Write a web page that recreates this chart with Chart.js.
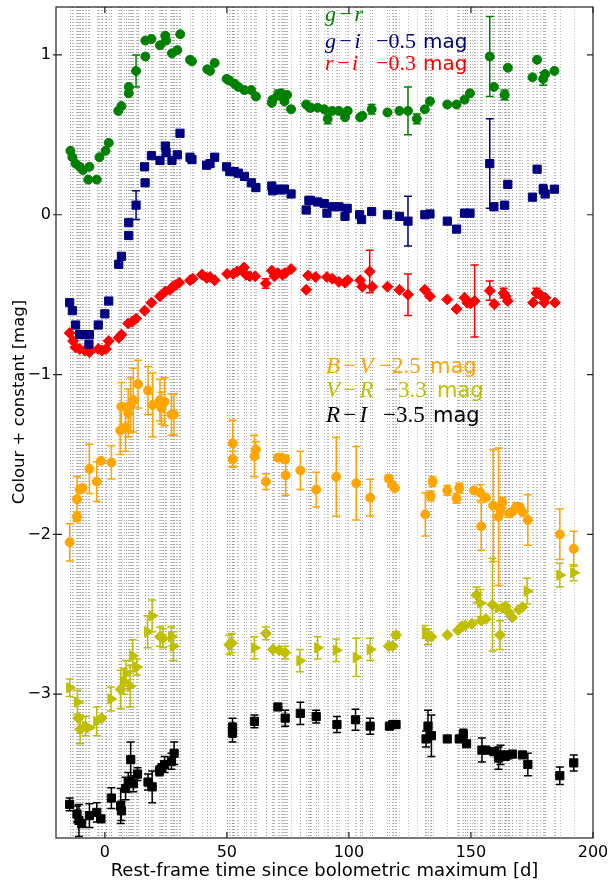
<!DOCTYPE html>
<html>
<head>
<meta charset="utf-8">
<script src="https://cdn.jsdelivr.net/npm/chart.js@4.4.1/dist/chart.umd.min.js"></script>
<style>
html, body { margin: 0; padding: 0; background: #fff; }
#wrap { width: 609px; height: 881px; }
</style>
</head>
<body>
<div id="wrap"><canvas id="myChart" width="609" height="881"></canvas></div>
<script>
// points are [rest-frame day, colour + constant, error]  (0 = error hidden by marker)
var grPts = [[-14.1,0.40,0],[-13.3,0.36,0],[-12.0,0.32,0],[-10.3,0.30,0],[-9.0,0.28,0],[-6.8,0.22,0],[-6.3,0.30,0],[-3.3,0.22,0],[-2.2,0.36,0],[0.3,0.40,0],[1.6,0.45,0],[5.5,0.65,0],[6.8,0.68,0],[9.8,0.76,0],[9.8,0.80,0],[12.8,0.90,0.10],[16.6,0.99,0],[16.6,1.09,0],[19.1,1.10,0],[22.6,1.06,0],[24.8,1.12,0],[25.1,1.09,0],[27.5,1.01,0],[29.7,1.03,0],[30.9,1.13,0],[34.9,0.97,0],[35.7,0.96,0],[42.0,0.91,0],[43.1,0.90,0],[45.0,0.95,0],[49.9,0.85,0],[51.0,0.84,0],[53.1,0.82,0],[54.7,0.80,0],[57.2,0.78,0],[60.0,0.78,0],[61.9,0.74,0],[68.4,0.70,0],[68.7,0.72,0],[70.9,0.75,0.03],[72.3,0.76,0],[73.6,0.71,0],[74.7,0.75,0],[76.3,0.66,0],[82.5,0.69,0],[83.9,0.67,0],[84.5,0.67,0],[87.2,0.67,0],[89.9,0.66,0],[91.3,0.60,0.03],[93.2,0.65,0],[95.9,0.65,0],[98.4,0.61,0],[99.5,0.65,0],[104.6,0.61,0],[105.5,0.62,0],[109.3,0.66,0.03],[115.8,0.64,0],[120.7,0.65,0],[124.2,0.65,0.15],[127.8,0.60,0.03],[131.1,0.66,0],[133.2,0.71,0],[140.3,0.69,0],[144.1,0.69,0],[147.4,0.72,0],[149.6,0.76,0],[157.7,0.99,0.25],[159.4,0.80,0],[163.8,0.75,0.03],[165.1,0.92,0],[175.2,0.86,0],[177.1,0.97,0],[179.6,0.85,0.04],[180.4,0.88,0],[184.2,0.90,0]];

var giPts = [[-14.4,-0.55,0],[-13.3,-0.60,0],[-12.0,-0.69,0],[-10.3,-0.75,0],[-8.2,-0.75,0],[-6.5,-0.81,0],[-6.3,-0.75,0],[-2.7,-0.69,0],[0.0,-0.62,0],[1.6,-0.54,0],[5.7,-0.31,0],[6.8,-0.26,0],[9.8,-0.13,0],[9.8,-0.05,0],[12.8,0.06,0.09],[16.5,0.20,0],[16.3,0.30,0],[19.1,0.37,0],[22.6,0.34,0],[24.8,0.43,0],[25.1,0.39,0],[27.5,0.34,0],[29.7,0.375,0],[30.8,0.51,0],[34.9,0.36,0],[35.7,0.345,0],[41.7,0.31,0],[43.1,0.32,0],[45.0,0.36,0],[49.9,0.30,0],[51.2,0.27,0],[53.1,0.27,0],[54.7,0.26,0],[57.2,0.24,0],[60.0,0.20,0],[61.9,0.17,0],[68.4,0.18,0],[68.7,0.15,0],[70.9,0.16,0],[72.3,0.155,0],[73.6,0.16,0],[76.3,0.13,0],[82.5,0.03,0],[83.6,0.09,0],[84.2,0.09,0],[87.2,0.08,0],[89.9,0.07,0],[91.0,0.01,0],[93.2,0.05,0],[95.9,0.05,0],[98.4,-0.01,0],[99.3,0.04,0],[104.4,0.0,0],[105.2,-0.03,0],[109.3,0.02,0],[115.8,0.0,0],[120.7,-0.01,0],[124.2,-0.04,0.155],[131.1,0.0,0],[133.2,0.005,0],[140.3,-0.04,0],[144.1,-0.09,0],[147.4,0.01,0],[149.6,0.01,0],[157.7,0.32,0.28],[159.4,0.05,0],[163.8,0.06,0],[165.1,0.19,0],[175.2,0.11,0],[177.1,0.285,0],[179.6,0.16,0.03],[180.4,0.13,0],[184.2,0.16,0]];

var riPts = [[-14.4,-0.74,0],[-13.0,-0.79,0],[-12.0,-0.83,0],[-10.3,-0.84,0],[-8.2,-0.85,0],[-6.3,-0.86,0],[-2.7,-0.84,0],[-1.1,-0.85,0],[0.5,-0.84,0],[1.6,-0.79,0],[5.7,-0.77,0],[6.8,-0.75,0],[9.6,-0.68,0],[11.2,-0.67,0],[12.8,-0.65,0],[16.3,-0.60,0],[19.1,-0.55,0],[22.6,-0.51,0],[24.8,-0.48,0],[26.7,-0.47,0],[27.8,-0.45,0],[29.1,-0.44,0],[30.5,-0.425,0],[34.9,-0.41,0],[36.0,-0.40,0],[39.8,-0.375,0],[41.7,-0.395,0],[43.1,-0.39,0],[45.0,-0.41,0],[50.1,-0.37,0],[52.6,-0.37,0],[54.2,-0.355,0],[57.0,-0.33,0],[57.8,-0.375,0],[59.4,-0.385,0],[61.6,-0.385,0],[65.9,-0.43,0.03],[68.4,-0.35,0],[69.5,-0.385,0],[70.9,-0.365,0],[72.8,-0.375,0],[73.9,-0.365,0],[76.3,-0.34,0],[82.5,-0.47,0],[83.3,-0.38,0],[86.4,-0.39,0],[91.0,-0.39,0],[93.2,-0.40,0],[95.9,-0.42,0],[98.4,-0.425,0],[99.5,-0.41,0],[104.6,-0.41,0],[105.5,-0.45,0],[108.5,-0.355,0.133],[109.6,-0.45,0],[115.8,-0.45,0],[120.7,-0.47,0],[124.2,-0.50,0.13],[131.1,-0.47,0],[133.2,-0.51,0],[140.3,-0.53,0],[144.1,-0.59,0],[147.4,-0.52,0],[148.5,-0.55,0],[149.8,-0.555,0],[151.5,-0.54,0.225],[157.7,-0.475,0.06],[159.6,-0.56,0],[163.4,-0.49,0.03],[164.2,-0.51,0],[165.1,-0.54,0],[175.5,-0.55,0],[176.8,-0.49,0.03],[178.4,-0.50,0],[180.0,-0.55,0],[180.5,-0.52,0],[184.4,-0.55,0]];

var bvPts = [[-14.4,-2.05,0.117],[-11.4,-1.89,0.03],[-11.4,-1.78,0.14],[-10.3,-1.72,0],[-9.2,-1.71,0],[-6.3,-1.59,0.154],[-3.3,-1.67,0.125],[-1.6,-1.54,0],[2.7,-1.55,0.104],[6.3,-1.35,0.15],[6.8,-1.20,0.15],[8.5,-1.33,0.15],[9.6,-1.24,0.15],[10.6,-1.19,0.17],[11.7,-1.16,0.2],[13.6,-1.06,0.15],[17.7,-1.10,0.15],[19.6,-1.19,0.2],[22.6,-1.16,0.13],[23.2,-1.21,0.1],[24.5,-1.17,0.15],[27.3,-1.25,0.13],[28.3,-1.25,0.13],[52.4,-1.43,0.144],[52.4,-1.53,0.05],[61.3,-1.51,0.13],[61.9,-1.47,0.05],[66.0,-1.67,0.05],[70.9,-1.52,0],[72.5,-1.52,0],[73.9,-1.53,0.02],[74.1,-1.63,0.125],[80.1,-1.60,0.12],[86.6,-1.72,0.108],[94.8,-1.64,0.246],[103.0,-1.68,0.23],[108.7,-1.77,0.115],[116.3,-1.65,0.02],[117.7,-1.69,0],[118.8,-1.71,0],[131.3,-1.875,0.135],[133.5,-1.76,0.03],[134.3,-1.67,0.03],[140.3,-1.725,0.03],[144.1,-1.775,0.03],[145.2,-1.71,0.03],[151.2,-1.725,0],[153.9,-1.74,0.05],[154.2,-1.95,0.15],[156.1,-1.77,0],[159.1,-1.82,0.35],[161.3,-1.89,0.43],[162.1,-1.85,0.03],[162.9,-1.80,0.03],[165.7,-1.87,0],[166.8,-1.86,0],[168.4,-1.83,0.03],[170.0,-1.83,0],[171.1,-1.86,0],[173.3,-1.91,0.158],[186.4,-2.00,0.158],[192.1,-2.09,0.11]];

var vrTriPts = [[-14.4,-2.96,0.055],[-11.2,-3.05,0.075],[-7.9,-3.20,0.06],[-6.3,-3.21,0],[-3.3,-3.17,0.09],[2.5,-3.03,0.075],[7.8,-2.92,0.08],[8.7,-2.87,0.08],[10.4,-2.95,0.13],[11.4,-2.76,0.1],[13.1,-2.83,0.05],[17.5,-2.61,0.1],[19.4,-2.51,0.1],[27.3,-2.64,0.06],[28.1,-2.70,0.09],[61.3,-2.71,0.07],[79.9,-2.79,0.07],[87.2,-2.71,0.07],[94.8,-2.725,0.07],[103.0,-2.77,0.12],[108.7,-2.72,0.07],[131.3,-2.61,0.04],[153.9,-2.43,0.085],[161.2,-2.46,0],[173.0,-2.355,0.08],[186.4,-2.255,0.075],[192.1,-2.24,0.05]];

var vrDiaPts = [[-10.9,-3.15,0],[-10.1,-3.22,0.09],[-1.3,-3.15,0],[6.5,-2.97,0.12],[22.6,-2.64,0.06],[23.8,-2.65,0.06],[51.0,-2.69,0.06],[52.0,-2.68,0.06],[66.0,-2.62,0.04],[68.9,-2.72,0],[71.4,-2.725,0],[73.9,-2.74,0.04],[116.3,-2.70,0],[117.9,-2.70,0],[119.3,-2.63,0.02],[132.4,-2.64,0.05],[133.8,-2.64,0],[140.3,-2.63,0],[144.7,-2.60,0],[146.3,-2.575,0],[147.7,-2.57,0],[150.4,-2.56,0],[152.3,-2.38,0.05],[154.2,-2.54,0],[156.1,-2.53,0],[158.8,-2.44,0.29],[161.9,-2.63,0.09],[162.9,-2.46,0],[164.2,-2.45,0],[165.6,-2.49,0],[166.9,-2.52,0],[169.6,-2.47,0],[171.1,-2.455,0]];

var riBlackPts = [[-14.4,-3.69,0.04],[-11.4,-3.75,0.05],[-10.6,-3.79,0.1],[-9.5,-3.81,0],[-6.3,-3.76,0.075],[-3.3,-3.74,0.06],[-1.6,-3.78,0],[2.7,-3.65,0.065],[6.5,-3.70,0.11],[6.8,-3.73,0.06],[8.5,-3.59,0.07],[9.6,-3.55,0.06],[10.6,-3.41,0.11],[11.7,-3.56,0.05],[13.4,-3.50,0.04],[17.7,-3.55,0.05],[19.4,-3.58,0.1],[22.4,-3.48,0.03],[23.4,-3.46,0],[24.5,-3.44,0.05],[27.3,-3.42,0.05],[28.4,-3.37,0.07],[52.3,-3.21,0.06],[52.3,-3.24,0.06],[61.3,-3.17,0.04],[70.9,-3.08,0],[73.9,-3.15,0.05],[80.1,-3.12,0.07],[86.6,-3.14,0.04],[95.1,-3.19,0.05],[102.7,-3.16,0.065],[108.7,-3.20,0.05],[116.6,-3.20,0],[118.0,-3.19,0],[119.3,-3.19,0],[131.6,-3.28,0.05],[132.4,-3.20,0.1],[133.8,-3.26,0.13],[140.3,-3.28,0],[145.2,-3.28,0],[146.9,-3.25,0.03],[148.2,-3.31,0],[154.5,-3.35,0.075],[156.1,-3.35,0],[159.4,-3.36,0],[161.3,-3.40,0.07],[162.1,-3.38,0.06],[164.0,-3.39,0],[165.3,-3.38,0],[167.0,-3.375,0],[171.1,-3.38,0],[173.3,-3.44,0.07],[186.4,-3.51,0.055],[192.1,-3.43,0.05]];

var xTicks = [0, 50, 100, 150, 200];
var yTicks = [-3, -2, -1, 0, 1];

var MINUS = '\u2212';

function fmt(v) {
    return v < 0 ? MINUS + Math.abs(v) : String(v);
}

function toData(pts) {
    return pts.map(function(p) { return {x: p[0], y: p[1], e: p[2]}; });
}

function series(pts, color, style, radius, rot) {
    return {
        data: toData(pts),
        backgroundColor: color,
        borderColor: color,
        borderWidth: 1,
        pointStyle: style,
        pointRadius: radius,
        pointRotation: rot || 0,
        showLine: false
    };
}

// dotted vertical line at every epoch that has a measurement
var epochLines = {
    id: 'epochLines',
    beforeDatasetsDraw: function(chart) {
        var ctx = chart.ctx, xs = chart.scales.x, area = chart.chartArea;
        var seen = {};
        chart.data.datasets.forEach(function(ds) {
            ds.data.forEach(function(p) { seen[p.x.toFixed(1)] = p.x; });
        });
        ctx.save();
        ctx.strokeStyle = 'rgba(140,140,140,0.6)';
        ctx.lineWidth = 1;
        ctx.setLineDash([1, 2]);
        Object.keys(seen).forEach(function(k) {
            var x = Math.round(xs.getPixelForValue(seen[k])) + 0.5;
            ctx.beginPath();
            ctx.moveTo(x, area.top);
            ctx.lineTo(x, area.bottom);
            ctx.stroke();
        });
        ctx.restore();
    }
};

var errorBars = {
    id: 'errorBars',
    beforeDatasetsDraw: function(chart) {
        var ctx = chart.ctx, xs = chart.scales.x, ys = chart.scales.y;
        chart.data.datasets.forEach(function(ds) {
            ctx.save();
            ctx.strokeStyle = ds.borderColor;
            ctx.lineWidth = 1.5;
            ds.data.forEach(function(p) {
                if (!p.e) return;
                var x = xs.getPixelForValue(p.x);
                var y1 = ys.getPixelForValue(p.y - p.e);
                var y2 = ys.getPixelForValue(p.y + p.e);
                ctx.beginPath();
                ctx.moveTo(x, y1); ctx.lineTo(x, y2);
                ctx.moveTo(x - 4, y1); ctx.lineTo(x + 4, y1);
                ctx.moveTo(x - 4, y2); ctx.lineTo(x + 4, y2);
                ctx.stroke();
            });
            ctx.restore();
        });
    }
};

// frame, inward ticks, axis titles and the colour labels
var frame = {
    id: 'frame',
    afterDraw: function(chart) {
        var ctx = chart.ctx, a = chart.chartArea, xs = chart.scales.x, ys = chart.scales.y;
        ctx.save();
        ctx.strokeStyle = '#222';
        ctx.lineWidth = 1.2;
        ctx.strokeRect(a.left, a.top, a.right - a.left, a.bottom - a.top);
        ctx.beginPath();
        xTicks.forEach(function(v) {
            var x = xs.getPixelForValue(v);
            ctx.moveTo(x, a.bottom); ctx.lineTo(x, a.bottom - 6);
            ctx.moveTo(x, a.top); ctx.lineTo(x, a.top + 6);
        });
        yTicks.forEach(function(v) {
            var y = ys.getPixelForValue(v);
            ctx.moveTo(a.left - 3, y); ctx.lineTo(a.left + 6, y);
            ctx.moveTo(a.right, y); ctx.lineTo(a.right - 6, y);
        });
        ctx.stroke();

        ctx.fillStyle = '#000';
        ctx.font = '18px "DejaVu Sans"';
        ctx.textAlign = 'center';
        ctx.textBaseline = 'alphabetic';
        ctx.fillText('Rest-frame time since bolometric maximum [d]', (a.left + a.right) / 2, 876);
        ctx.translate(24, 402);
        ctx.rotate(-Math.PI / 2);
        ctx.font = '16.5px "DejaVu Sans"';
        ctx.fillText('Colour + constant [mag]', 0, 0);
        ctx.restore();

        // name in math italic, offset in upright serif, "mag" in sans
        function label(t, y, color, name, off, size, offX, magX) {
            var px = xs.getPixelForValue(t), py = ys.getPixelForValue(y);
            ctx.save();
            ctx.fillStyle = color;
            ctx.textAlign = 'left';
            ctx.textBaseline = 'alphabetic';
            ctx.font = 'italic ' + (size + 2) + 'px "Liberation Serif"';
            ctx.fillText(name, px, py);
            if (off) {
                ctx.font = (size + 2) + 'px "Liberation Serif"';
                ctx.fillText(off, px + offX, py);
                ctx.font = size + 'px "DejaVu Sans"';
                ctx.fillText('mag', px + magX, py);
            }
            ctx.restore();
        }
        var gap = '\u200a' + MINUS + '\u200a';
        label(90.2, 1.213, '#008000', 'g' + gap + 'r', '', 20, 0, 0);
        label(90.2, 1.044, '#000080', 'g' + gap + 'i', MINUS + '0.5', 20, 51, 98);
        label(90.2, 0.906, '#ff0000', 'r' + gap + 'i', MINUS + '0.3', 20, 51, 98);
        label(90.6, -0.99, '#ffa500', 'B' + gap + 'V', MINUS + '2.5', 21, 53, 104);
        label(90.6, -1.14, '#bfbf00', 'V' + gap + 'R', MINUS + '3.3', 21, 59, 111);
        label(90.6, -1.297, '#000000', 'R' + gap + 'I', MINUS + '3.5', 21, 57, 107);
    }
};

var ctx = document.getElementById('myChart');
var chart = new Chart(ctx, {
    type: 'scatter',
    data: {
        datasets: [
            series(grPts, '#008000', 'circle', 4.5),
            series(giPts, '#000080', 'rect', 5.8),
            series(riPts, '#ff0000', 'rectRot', 5.5),
            series(bvPts, '#ffa500', 'circle', 4.5),
            series(vrTriPts, '#bfbf00', 'triangle', 6, 90),
            series(vrDiaPts, '#bfbf00', 'rectRot', 5.5),
            series(riBlackPts, '#000000', 'rect', 5.8)
        ]
    },
    options: {
        responsive: false,
        animation: false,
        layout: { padding: { left: 0, right: 16, top: 7, bottom: 0 } },
        plugins: {
            legend: { display: false },
            tooltip: { enabled: false }
        },
        scales: {
            x: {
                type: 'linear',
                min: -20,
                max: 200,
                afterFit: function(s) {
                    s.height = 43;
                    s.paddingLeft = 0;
                    s.paddingRight = 0;
                },
                grid: { display: false, drawTicks: false },
                border: { display: false },
                ticks: {
                    stepSize: 50,
                    padding: 5,
                    maxRotation: 0,
                    autoSkip: false,
                    color: '#000',
                    font: { family: 'DejaVu Sans', size: 16 },
                    callback: function(v) { return xTicks.indexOf(v) >= 0 ? fmt(v) : ''; }
                }
            },
            y: {
                type: 'linear',
                min: -3.9,
                max: 1.3,
                afterFit: function(s) {
                    s.width = 56;
                    s.paddingTop = 0;
                    s.paddingBottom = 0;
                },
                grid: { display: false, drawTicks: false },
                border: { display: false },
                ticks: {
                    stepSize: 1,
                    padding: 5,
                    autoSkip: false,
                    color: '#000',
                    font: { family: 'DejaVu Sans', size: 16 },
                    callback: function(v) { return yTicks.indexOf(v) >= 0 ? fmt(v) : ''; }
                }
            }
        }
    },
    plugins: [epochLines, errorBars, frame]
});
</script>
</body>
</html>
